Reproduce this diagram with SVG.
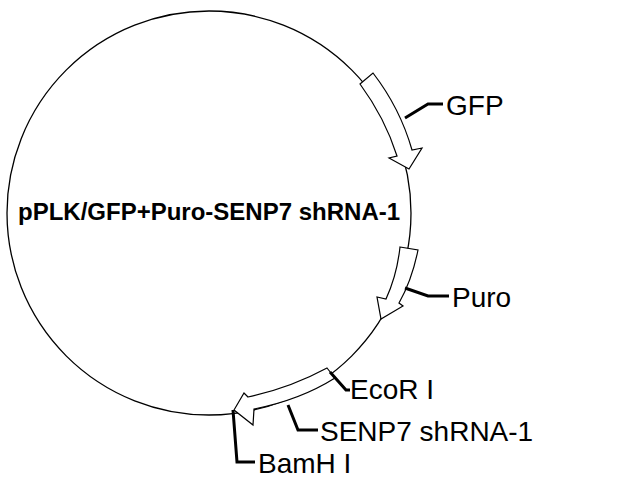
<svg xmlns="http://www.w3.org/2000/svg" width="640" height="480" viewBox="0 0 640 480">
<style>
.c{fill:none;stroke:#000;stroke-width:1.3}
.a{fill:#fff;stroke:#000;stroke-width:1.2}
.l{fill:none;stroke:#000;stroke-width:3}
text{font-family:"Liberation Sans",Arial,sans-serif;font-size:28px;fill:#000}
.t{font-size:24px;font-weight:bold}
</style>
<rect width="640" height="480" fill="#fff"/>
<g id="plasmid"><circle class="c" cx="209" cy="213" r="202"/></g>
<g id="features">
<path id="gfp" class="a" d="M360,84 L373,73 Q400,108 412,150 L422,148 L409,169 L389,158 L397,156 Q385,118 360,84 Z"/>
<path id="puro" class="a" d="M400,247 L418,250 Q412,280 399,303 L403,306 L381,319 L377,297 L386,299 Q397,275 400,247 Z"/>
<path id="senp" class="a" d="M327,368 L335,378 Q300,400 254,409 L253,425 L234,410 L244,393 L248,397 Q290,388 327,368 Z"/>
</g>
<g id="connectors">
<polyline class="l" points="405,118 428,104 443,104"/>
<polyline class="l" points="405,288 428,296 449,296"/>
<polyline class="l" points="330,372 346,390 350,390"/>
<polyline class="l" points="288,405 298,430 318,430"/>
<polyline class="l" points="233,410 237,462 255,462"/>
</g>
<text class="t" x="18" y="220">pPLK/GFP+Puro-SENP7 shRNA-1</text>
<text x="446" y="115">GFP</text>
<text x="452" y="307">Puro</text>
<text x="350" y="399">EcoR I</text>
<text x="320" y="441">SENP7 shRNA-1</text>
<text x="258" y="473">BamH I</text>
</svg>
